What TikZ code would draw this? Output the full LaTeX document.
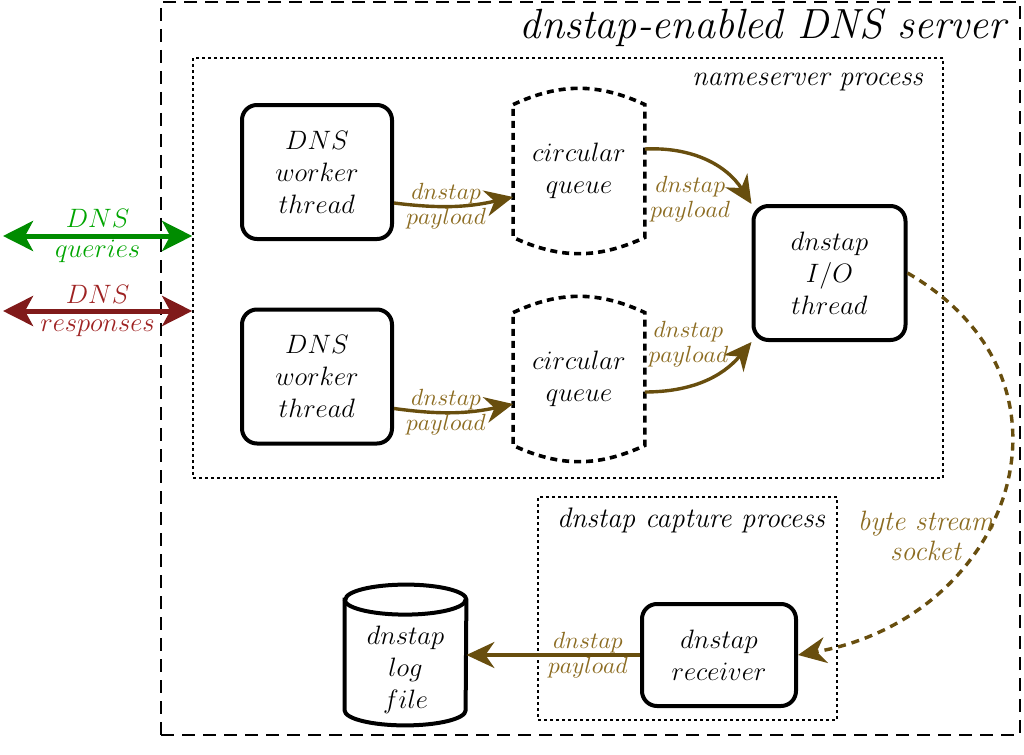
\RequirePackage{fix-cm}
\documentclass[tikz,border=0pt]{standalone}
\usetikzlibrary{arrows.meta}
\definecolor{qgreen}{RGB}{0,140,0}
\definecolor{qgreentext}{RGB}{0,165,0}
\definecolor{rred}{RGB}{128,26,26}
\definecolor{rredtext}{RGB}{158,34,34}
\definecolor{tapbrown}{RGB}{104,78,14}
\definecolor{tapbrowntext}{RGB}{140,108,34}
\newcommand{\boxfont}{\fontsize{13.3}{16}\selectfont}
\newcommand{\lblfont}{\fontsize{11.7}{12.5}\selectfont}

\begin{document}
\begin{tikzpicture}[x=0.5pt,y=-0.5pt]
\tikzstyle{every node}=[font=\boxfont, align=center]
\tikzstyle{thread}=[draw, line width=2pt, rounded corners=7.5pt, minimum width=75pt, minimum height=67pt, inner sep=0pt]
\tikzstyle{queue}=[minimum width=65.5pt, minimum height=66pt, inner sep=0pt]
\tikzstyle{qline}=[line width=1.8pt, dash pattern=on 3.5pt off 2.5pt]
\tikzstyle{proc}=[draw, line width=0.8pt, dash pattern=on 1.5pt off 1.5pt, inner sep=0pt]
\tikzstyle{tap}=[tapbrown, line width=1.7pt, ->, >={Stealth[length=14pt,width=13pt,inset=4.5pt]}]
\tikzstyle{taplbl}=[font=\lblfont, text=tapbrowntext, inner sep=1pt]
\tikzstyle{dns}=[line width=2.5pt, <->, >={Stealth[length=15pt,width=15pt,inset=4pt]}]
\useasboundingbox (0,0) rectangle (1024,755);

\node[draw, line width=0.8pt, dash pattern=on 6.5pt off 4pt, minimum width=429.5pt, minimum height=366.5pt, inner sep=0pt] (srv) at (590.5,368.5) {};
\node[anchor=base east, font={\fontsize{21.1}{24}\selectfont\itshape}] (srvlbl) at (1013,39) {dnstap-enabled DNS server};
\node[proc, minimum width=375pt, minimum height=210pt] (ns) at (568,268) {};
\node[anchor=base east, font={\fontsize{14.1}{16}\selectfont\itshape}] (nslbl) at (930,85) {nameserver process};
\node[proc, minimum width=149.5pt, minimum height=111.5pt] (cap) at (687.5,608.5) {};
\node[anchor=base, font={\fontsize{14.1}{16}\selectfont\itshape}] (caplbl) at (691,527) {dnstap capture process};

\node[thread] (wtop) at (317,172) {$DNS$\\$worker$\\$thread$};
\node[thread] (wbot) at (317,376.5) {$DNS$\\$worker$\\$thread$};
\node[queue] (qtop) at (579,171) {$circular$\\$queue$};
\node[queue] (qbot) at (579,379) {$circular$\\$queue$};
\node[thread, minimum width=76pt] (io) at (829.5,273) {$dnstap$\\$I/O$\\$thread$};
\node[thread, minimum width=77pt, minimum height=51pt] (recv) at (719,655) {$dnstap$\\$receiver$};
\node[minimum width=60.5pt, minimum height=55pt, inner sep=0pt] (log) at (405.5,670) {$dnstap$\\$log$\\$file$};

\foreach \q in {qtop,qbot}
  \draw[qline] (\q.north west) to[bend left=25] (\q.north east) -- (\q.south east) to[bend left=25] (\q.south west) -- cycle;
\draw[line width=2pt] ([yshift=7.5pt]log.north west) -- ([yshift=7.5pt]log.south west)
  arc[start angle=180, end angle=360, x radius=30.25pt, y radius=7.5pt] -- ([yshift=7.5pt]log.north east)
  arc[start angle=0, end angle=180, x radius=30.25pt, y radius=7.5pt] -- cycle;
\draw[line width=2pt] ([yshift=7.5pt]log.north west) arc[start angle=180, end angle=360, x radius=30.25pt, y radius=7.5pt];

\draw[tap] ([yshift=-15.5pt]wtop.east) to[bend right=10] node[taplbl, pos=0.43]{$dnstap$\\$payload$} ([yshift=-13pt]qtop.west);
\draw[tap] ([yshift=-16pt]wbot.east) to[bend right=10] node[taplbl, pos=0.43]{$dnstap$\\$payload$} ([yshift=-12.5pt]qbot.west);
\draw[tap] ([yshift=11pt]qtop.east) to[bend left=30] node[taplbl, anchor=north, xshift=-8pt, yshift=-6pt]{$dnstap$\\$payload$} (io.north west);
\draw[tap] ([yshift=-6.5pt]qbot.east) to[bend right=25] node[taplbl, anchor=south, xshift=-8pt, yshift=4.5pt]{$dnstap$\\$payload$} (io.south west);
\draw[tap, dash pattern=on 4pt off 3pt] (io.east) to[out=-30, in=10, looseness=1.4] node[pos=0.6, anchor=east, xshift=7pt, font={\fontsize{14}{15}\selectfont\itshape}, text=tapbrowntext, inner sep=1pt]{byte stream\\socket} (recv.east);
\draw[tap] (recv.west) -- node[taplbl, pos=0.3]{$dnstap$\\$payload$} (recv.west -| log.east);

\coordinate (qleft) at (3,236);
\coordinate (rleft) at (3,311);
\draw[dns, qgreen] (qleft) -- node[font={\fontsize{13.3}{15}\selectfont}, text=qgreentext]{$DNS$\\$queries$} (qleft -| ns.west);
\draw[dns, rred] (rleft) -- node[font={\fontsize{13.3}{14}\selectfont}, text=rredtext]{$DNS$\\$responses$} (rleft -| ns.west);

\end{tikzpicture}
\end{document}
